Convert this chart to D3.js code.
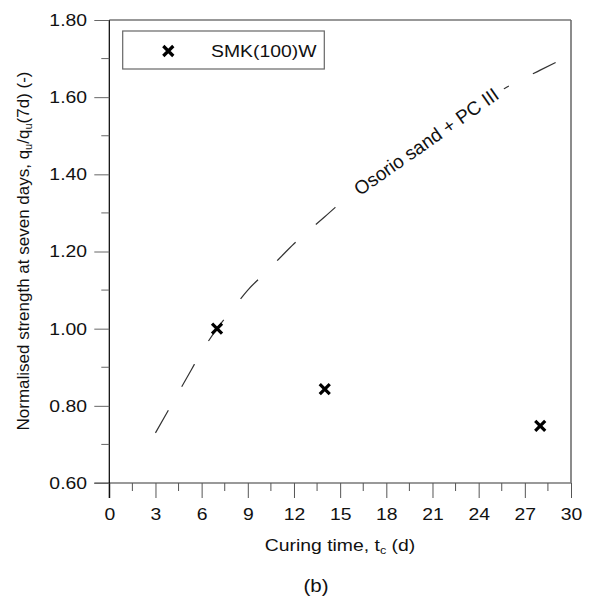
<!DOCTYPE html>
<html lang="en">
<head>
    <meta charset="UTF-8">
    <title>Normalised strength</title>
    <script src="https://d3js.org/d3.v7.min.js"></script>
    <style>
        body {
            margin: 0;
            background: #fff;
            font-family: Arial, "Liberation Sans", sans-serif;
        }
        text {
            font-family: Arial, "Liberation Sans", sans-serif;
        }
    </style>
</head>
<body>
    <div id="chart"></div>
    <script>
        // Data
        const pointDays = [7, 14, 28];
        const pointStrength = [1.00, 0.843, 0.748];
        const curveDays = [3, 4, 5, 6, 7, 8, 9, 10, 11, 12, 14, 16, 18, 20, 22, 24, 26, 28, 29];
        const curveStrength = [0.73, 0.80, 0.87, 0.94, 1.00, 1.05, 1.10, 1.14, 1.18, 1.22, 1.29, 1.36, 1.42, 1.48, 1.53, 1.58, 1.63, 1.67, 1.69];
        const xTicks = [0, 3, 6, 9, 12, 15, 18, 21, 24, 27, 30];
        const yTicks = [0.60, 0.80, 1.00, 1.20, 1.40, 1.60, 1.80];
        const seriesName = "SMK(100)W";
        const curveName = "Osorio sand + PC III";

        const W = 591, H = 601;
        const margin = { top: 20, right: 20, bottom: 118, left: 109.3 };
        const width = 571 - margin.left,
              height = 483 - margin.top;
        const stretch = 1.14; // the original text is a bit wide

        const svg = d3.select("#chart").append("svg")
            .attr("width", W)
            .attr("height", H);

        const g = svg.append("g")
            .attr("transform", `translate(${margin.left},${margin.top})`);

        const x = d3.scaleLinear().domain([0, 30]).range([0, width]);
        const y = d3.scaleLinear().domain([0.6, 1.8]).range([height, 0]);

        // frame
        g.append("line").attr("x1", 0).attr("x2", width).attr("y1", 0).attr("y2", 0)
            .style("stroke", "#333").style("stroke-width", 1.2);
        g.append("line").attr("x1", width).attr("x2", width).attr("y1", 0).attr("y2", height)
            .style("stroke", "#666").style("stroke-width", 1.5);

        // bottom axis
        const xAxis = g.append("g")
            .attr("transform", `translate(0,${height})`)
            .call(d3.axisBottom(x).tickValues(xTicks).tickFormat(d3.format("d")).tickSize(15).tickPadding(10));
        xAxis.append("g").selectAll("line")
            .data(d3.range(1.5, 30, 3))
            .enter().append("line")
            .attr("x1", d => x(d)).attr("x2", d => x(d))
            .attr("y1", 0).attr("y2", 8);
        xAxis.select(".domain").attr("d", `M-15,0H${width}`);
        xAxis.selectAll("line").style("stroke", "#555");
        xAxis.select(".domain").style("stroke", "#777").style("stroke-width", 1.5);
        xAxis.selectAll("text")
            .attr("transform", `scale(${stretch},1)`)
            .style("font-size", "17px").style("fill", "#111");

        // left axis
        const yAxis = g.append("g")
            .call(d3.axisLeft(y).tickValues(yTicks).tickFormat(d3.format(".2f")).tickSize(15).tickPadding(4.5));
        yAxis.append("g").selectAll("line")
            .data(d3.range(0.7, 1.8, 0.2))
            .enter().append("line")
            .attr("x1", -8).attr("x2", 0)
            .attr("y1", d => y(d)).attr("y2", d => y(d));
        yAxis.select(".domain").attr("d", `M0,0V${height + 15}`);
        yAxis.selectAll("line").style("stroke", "#666");
        yAxis.select(".domain").style("stroke", "#000").style("stroke-width", 1.2);
        yAxis.selectAll(".tick text")
            .attr("transform", function () {
                const ty = d3.select(this.parentNode).attr("transform");
                return `scale(${stretch},1)`;
            })
            .style("font-size", "17px").style("fill", "#111");

        // dashed curve
        const curve = curveDays.map((d, i) => ({ t: d, v: curveStrength[i] }));
        const line = d3.line()
            .x(d => x(d.t))
            .y(d => y(d.v))
            .curve(d3.curveMonotoneX);

        g.append("path")
            .datum(curve)
            .attr("d", line)
            .style("fill", "none")
            .style("stroke", "#333")
            .style("stroke-width", 1.2)
            .style("stroke-dasharray", "26,27");

        // curve label on a white box that breaks the line
        const lab = g.append("g")
            .attr("transform", `translate(${x(20.6)},${y(1.495) + 4}) rotate(-35)`);
        const labText = lab.append("text")
            .attr("text-anchor", "middle")
            .attr("dominant-baseline", "central")
            .style("font-size", "19px")
            .style("fill", "#111")
            .text(curveName);
        const lw = labText.node().getComputedTextLength();
        lab.insert("rect", "text")
            .attr("x", -lw / 2 - 8).attr("y", -13)
            .attr("width", lw + 16).attr("height", 26)
            .style("fill", "#fff");

        // points
        function cross(sel, cx, cy) {
            sel.append("path")
                .attr("d", `M${cx - 5},${cy - 5}L${cx + 5},${cy + 5}M${cx - 5},${cy + 5}L${cx + 5},${cy - 5}`)
                .style("stroke", "#000")
                .style("stroke-width", 3.2)
                .style("fill", "none");
        }
        pointDays.forEach((d, i) => cross(g, x(d), y(pointStrength[i])));

        // legend
        svg.append("rect")
            .attr("x", 122.7).attr("y", 31)
            .attr("width", 201.6).attr("height", 38)
            .style("fill", "#fff")
            .style("stroke", "#666")
            .style("stroke-width", 1.2);
        cross(svg, 168.3, 51);
        svg.append("text")
            .attr("transform", `translate(211,57) scale(${stretch},1)`)
            .style("font-size", "17px")
            .style("fill", "#111")
            .text(seriesName);

        // axis titles
        const xt = svg.append("text")
            .attr("transform", `translate(340,551) scale(${stretch},1)`)
            .attr("text-anchor", "middle")
            .style("font-size", "17px")
            .style("fill", "#111");
        xt.append("tspan").text("Curing time, t");
        xt.append("tspan").attr("baseline-shift", "-25%").style("font-size", "11px").text("c");
        xt.append("tspan").text(" (d)");

        const yt = svg.append("text")
            .attr("transform", `translate(29,251) rotate(-90)`)
            .attr("text-anchor", "middle")
            .style("font-size", "17px")
            .style("fill", "#111");
        yt.append("tspan").text("Normalised strength at seven days, q");
        yt.append("tspan").attr("baseline-shift", "-25%").style("font-size", "11px").text("u");
        yt.append("tspan").text("/q");
        yt.append("tspan").attr("baseline-shift", "-25%").style("font-size", "11px").text("u");
        yt.append("tspan").text("(7d) (-)");

        svg.append("text")
            .attr("transform", `translate(316,592) scale(${stretch},1)`)
            .attr("text-anchor", "middle")
            .style("font-size", "18px")
            .style("fill", "#111")
            .text("(b)");
    </script>
</body>
</html>
